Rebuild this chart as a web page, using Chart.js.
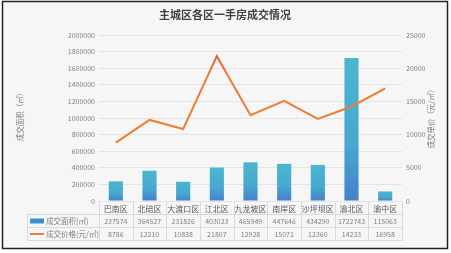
<!DOCTYPE html>
<html>
<head>
<meta charset="utf-8">
<script src="https://cdn.jsdelivr.net/npm/chart.js@4.4.1/dist/chart.umd.min.js"></script>
<style>
  html, body { margin: 0; padding: 0; background: #ffffff; }
  #wrap { position: relative; width: 451px; height: 253px; }
</style>
</head>
<body>
<div id="wrap"><canvas id="chart" width="451" height="253"></canvas></div>
<script>
// chart data
const districts = ['巴南区', '北碚区', '大渡口区', '江北区', '九龙坡区', '南岸区', '沙坪坝区', '渝北区', '渝中区'];
const areaValues = [237574, 364527, 231826, 403023, 465949, 447646, 434290, 1722743, 115063];
const priceValues = [8786, 12210, 10838, 21807, 12928, 15071, 12360, 14233, 16958];
const areaLabel = '成交面积(㎡)';
const priceLabel = '成交价格(元/㎡)';
const titleText = '主城区各区一手房成交情况';
const leftAxisTitle = '成交面积（㎡）';
const rightAxisTitle = '成交单价（元/㎡）';

const FONT = '"Noto Sans CJK SC", "Noto Sans", sans-serif';

// frame, title, axis titles and the data table under the plot
const decorPlugin = {
  id: 'decor',
  beforeDraw(chart) {
    const c = chart.ctx;
    c.save();
    c.fillStyle = '#ffffff';
    c.fillRect(0, 0, chart.width, chart.height);
    c.fillStyle = '#f6f6f6';
    c.fillRect(3, 2, 444, 246);
    c.strokeStyle = '#222222';
    c.lineWidth = 1.5;
    c.strokeRect(2.5, 1.5, 445, 247);
    c.restore();
  },
  afterDraw(chart) {
    const c = chart.ctx;
    const x = chart.scales.x;
    const area = chart.chartArea;
    c.save();

    // title
    c.fillStyle = '#404040';
    c.font = 'bold 11px ' + FONT;
    c.textAlign = 'center';
    c.textBaseline = 'middle';
    c.fillText(titleText, 225, 15);

    // axis titles
    c.font = '7.5px ' + FONT;
    c.fillStyle = '#7f7f7f';
    c.save();
    c.translate(20, 115);
    c.rotate(-Math.PI / 2);
    c.fillText(leftAxisTitle, 0, 0);
    c.restore();
    c.save();
    c.translate(431, 117);
    c.rotate(-Math.PI / 2);
    c.fillText(rightAxisTitle, 0, 0);
    c.restore();

    // table
    const step = x.getPixelForValue(1) - x.getPixelForValue(0);
    const tLeft = 27.5;
    const tRight = Math.round(area.right) + 0.5;
    const y0 = Math.round(area.bottom) + 0.5;
    const y1 = y0 + 13, y2 = y1 + 13, y3 = y2 + 13;
    c.strokeStyle = '#d9d9d9';
    c.lineWidth = 1;
    c.beginPath();
    [y1, y2, y3].forEach(yy => { c.moveTo(tLeft, yy); c.lineTo(tRight, yy); });
    c.moveTo(tLeft, y1); c.lineTo(tLeft, y3);
    for (let i = 0; i <= districts.length; i++) {
      const xx = Math.round(x.getPixelForValue(0) - step / 2 + i * step) + 0.5;
      c.moveTo(xx, y0); c.lineTo(xx, y3);
    }
    c.stroke();

    c.textAlign = 'center';
    c.textBaseline = 'middle';
    districts.forEach((d, i) => {
      const cx = x.getPixelForValue(i);
      c.font = '8px ' + FONT;
      c.fillStyle = '#595959';
      c.fillText(d, cx, (y0 + y1) / 2 + 1);
      c.font = '7px ' + FONT;
      c.fillStyle = '#7f7f7f';
      c.fillText(String(areaValues[i]), cx, (y1 + y2) / 2);
      c.fillText(String(priceValues[i]), cx, (y2 + y3) / 2);
    });

    // legend keys in the first column
    c.fillStyle = '#3d8fcc';
    c.fillRect(30, (y1 + y2) / 2 - 2.5, 14, 5);
    c.strokeStyle = '#ed7d31';
    c.lineWidth = 2;
    c.beginPath();
    c.moveTo(30, (y2 + y3) / 2);
    c.lineTo(44, (y2 + y3) / 2);
    c.stroke();
    c.textAlign = 'left';
    c.font = '7.5px ' + FONT;
    c.fillStyle = '#7f7f7f';
    c.fillText(areaLabel, 46, (y1 + y2) / 2);
    c.fillText(priceLabel, 46, (y2 + y3) / 2);
    c.restore();
  }
};

function barGradient(context) {
  const chart = context.chart;
  const y = chart.scales.y;
  if (!y || context.raw == null) return '#4ab4cf';
  const top = y.getPixelForValue(context.raw);
  const bottom = y.getPixelForValue(0);
  if (!isFinite(top) || !isFinite(bottom) || top === bottom) return '#4ab4cf';
  const g = chart.ctx.createLinearGradient(0, top, 0, bottom);
  g.addColorStop(0, '#4bb6d0');
  g.addColorStop(0.6, '#47a8d0');
  g.addColorStop(1, '#4580cc');
  return g;
}

function lineGradient(context) {
  const chart = context.chart;
  const area = chart.chartArea;
  if (!area || !isFinite(area.top) || !isFinite(area.bottom)) return '#ed7d31';
  const g = chart.ctx.createLinearGradient(0, area.top, 0, area.bottom);
  g.addColorStop(0, '#e8343a');
  g.addColorStop(0.12, '#e85a35');
  g.addColorStop(0.25, '#ed7d31');
  g.addColorStop(1, '#ed7d31');
  return g;
}

const plainTick = v => String(v);

const ctx = document.getElementById('chart').getContext('2d');
new Chart(ctx, {
  type: 'bar',
  data: {
    labels: districts,
    datasets: [
      {
        type: 'line',
        label: priceLabel,
        data: priceValues,
        yAxisID: 'y1',
        borderColor: lineGradient,
        borderWidth: 2,
        pointRadius: 0,
        tension: 0,
        fill: false,
        order: 0
      },
      {
        type: 'bar',
        label: areaLabel,
        data: areaValues,
        yAxisID: 'y',
        backgroundColor: barGradient,
        barPercentage: 0.42,
        categoryPercentage: 1,
        order: 1
      }
    ]
  },
  options: {
    responsive: false,
    animation: false,
    layout: { padding: { left: 0, right: 0, top: 35, bottom: 52 } },
    plugins: {
      legend: { display: false },
      title: { display: false },
      tooltip: { enabled: false }
    },
    scales: {
      x: {
        display: false,
        offset: true
      },
      y: {
        position: 'left',
        min: 0,
        max: 2000000,
        afterFit(scale) { scale.width = 99; },
        ticks: {
          stepSize: 200000,
          padding: 4,
          color: '#7f7f7f',
          callback: plainTick,
          font: { size: 7, family: FONT }
        },
        grid: { color: '#e4e4e4', drawTicks: false },
        border: { display: false }
      },
      y1: {
        position: 'right',
        min: 0,
        max: 25000,
        afterFit(scale) { scale.width = 49; },
        ticks: {
          stepSize: 5000,
          padding: 4,
          color: '#7f7f7f',
          callback: plainTick,
          font: { size: 7, family: FONT }
        },
        grid: { display: false, drawTicks: false },
        border: { display: false }
      }
    }
  },
  plugins: [decorPlugin]
});
</script>
</body>
</html>
